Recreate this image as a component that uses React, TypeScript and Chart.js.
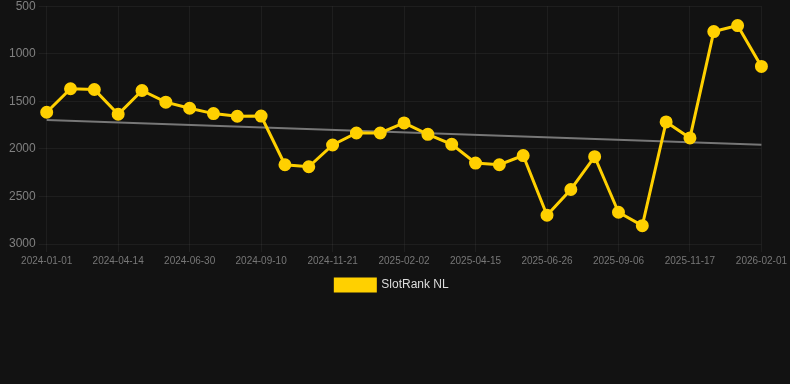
import React, { useEffect, useRef } from "react";
import { Chart, registerables } from "chart.js";

Chart.register(...registerables);

const labels: string[] = [
  "2024-01-01", "2024-02-05", "2024-03-10", "2024-04-14", "2024-05-10", "2024-06-05",
  "2024-06-30", "2024-07-24", "2024-08-17", "2024-09-10", "2024-10-04", "2024-10-28",
  "2024-11-21", "2024-12-15", "2025-01-08", "2025-02-02", "2025-02-26", "2025-03-22",
  "2025-04-15", "2025-05-09", "2025-06-02", "2025-06-26", "2025-07-20", "2025-08-13",
  "2025-09-06", "2025-09-30", "2025-10-24", "2025-11-17", "2025-12-12", "2026-01-06",
  "2026-02-01",
];

const rankValues: number[] = [
  1615, 1368, 1376, 1636, 1386, 1509, 1573, 1629, 1657, 1655,
  2167, 2188, 1959, 1833, 1833, 1727, 1847, 1952, 2149, 2167,
  2070, 2698, 2427, 2082, 2666, 2807, 1717, 1885, 767, 704,
  1133,
];

const trendStart = 1696;
const trendEnd = 1956;
const trendValues: (number | null)[] = labels.map((_, i) =>
  i === 0 ? trendStart : i === labels.length - 1 ? trendEnd : null
);

const yTicks: number[] = [500, 1000, 1500, 2000, 2500, 3000];
const xTickEvery = 3;

const legendShift = {
  id: "legendShift",
  afterLayout(chart: any) {
    const lg = chart.legend;
    if (lg) {
      lg.left -= 6;
      lg.right -= 6;
    }
  },
};

export default function App() {
  const canvasRef = useRef<HTMLCanvasElement>(null);

  useEffect(() => {
    document.body.style.margin = "0";
    document.body.style.background = "#121212";
    document.body.style.overflow = "hidden";
    const ctx = canvasRef.current;
    if (!ctx) return;
    const chart = new Chart(ctx, {
      type: "line",
      data: {
        labels,
        datasets: [
          {
            label: "SlotRank NL",
            data: rankValues,
            borderColor: "#FFD000",
            backgroundColor: "#FFD000",
            borderWidth: 3,
            pointRadius: 5,
            pointHoverRadius: 5,
            pointBackgroundColor: "#FFD000",
            pointBorderColor: "#FFD000",
            tension: 0,
          },
          {
            label: "trend",
            data: trendValues,
            borderColor: "#777777",
            backgroundColor: "#777777",
            borderWidth: 2,
            pointRadius: 0,
            spanGaps: true,
            tension: 0,
          },
        ],
      },
      options: {
        animation: false,
        responsive: true,
        maintainAspectRatio: false,
        layout: { padding: { top: 0, left: 6, right: 0, bottom: 0 } },
        scales: {
          x: {
            grid: { color: "rgba(255,255,255,0.05)" },
            border: { display: false },
            afterBuildTicks: (axis: any) => {
              axis.ticks = axis.ticks.filter((t: any) => t.value % xTickEvery === 0);
            },
            ticks: {
              color: "#777777",
              font: { size: 10 },
              autoSkip: false,
              maxRotation: 0,
              callback: (v: any) => labels[v],
            },
          },
          y: {
            reverse: true,
            min: yTicks[0],
            max: yTicks[yTicks.length - 1],
            grid: { color: "rgba(255,255,255,0.05)" },
            border: { display: false },
            afterBuildTicks: (axis: any) => {
              axis.ticks = yTicks.map((v) => ({ value: v }));
            },
            ticks: {
              color: "#808080",
              font: { size: 12 },
              callback: (v: any) => String(v),
            },
          },
        },
        plugins: {
          legend: {
            position: "bottom",
            labels: {
              color: "#dddddd",
              font: { size: 12 },
              boxWidth: 40,
              boxHeight: 12,
              padding: 9,
              filter: (item: any) => item.text !== "trend",
            },
          },
          tooltip: { enabled: false },
        },
      },
      plugins: [legendShift],
    });
    return () => chart.destroy();
  }, []);

  return (
    <div style={{ width: 790, height: 305, marginTop: -4, background: "#121212" }}>
      <canvas ref={canvasRef} />
    </div>
  );
}
